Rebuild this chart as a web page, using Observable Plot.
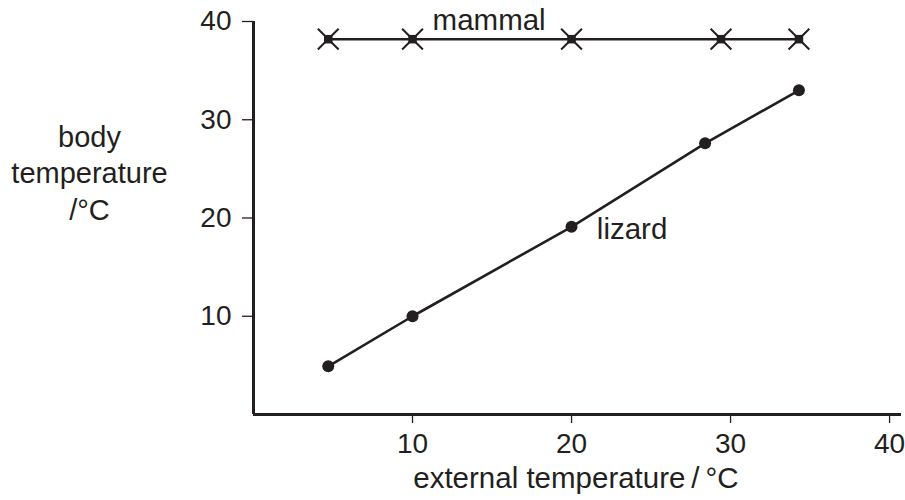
<!DOCTYPE html>
<html>
<head>
<meta charset="utf-8">
<script src="https://cdn.jsdelivr.net/npm/d3@7"></script>
<script src="https://cdn.jsdelivr.net/npm/@observablehq/plot@0.6"></script>
<style>
  html, body { margin: 0; padding: 0; background: white; }
</style>
</head>
<body>
<div id="chart"></div>
<script>
const mammalX = [4.7, 10, 20, 29.4, 34.3];
const mammalY = [38.2, 38.2, 38.2, 38.2, 38.2];
const lizardX = [4.7, 10, 20, 28.4, 34.3];
const lizardY = [4.9, 10, 19.1, 27.6, 33.0];
const xTicks = [10, 20, 30, 40];
const yTicks = [10, 20, 30, 40];
const seriesNames = ["mammal", "lizard"];
const xTitle = "external temperature\u2009/\u2009°C";
const yTitle = "body\ntemperature\n/°C";

const mammal = mammalX.map((x, i) => ({x, y: mammalY[i]}));
const lizard = lizardX.map((x, i) => ({x, y: lizardY[i]}));

const ink = "#231f20";
const font = "'Liberation Sans', Arial, Helvetica, sans-serif";
const fs = 28;
const ft = 29.5;

const chart = Plot.plot({
  width: 905,
  height: 500,
  marginLeft: 253,
  marginRight: 4,
  marginTop: 21,
  marginBottom: 86,
  x: {domain: [0, 40.75]},
  y: {domain: [0, 40]},
  style: {fontFamily: font, fontSize: fs + "px", color: ink, background: "white", overflow: "visible"},
  marks: [
    Plot.axisX({ticks: xTicks, tickSize: 9, tickPadding: 10, label: null, fontSize: fs, strokeWidth: 1.3}),
    Plot.axisY({ticks: yTicks, tickSize: 11, tickPadding: 11, label: null, fontSize: fs, strokeWidth: 1.3}),
    Plot.ruleX([0], {stroke: ink, strokeWidth: 3}),
    Plot.ruleY([0], {stroke: ink, strokeWidth: 3}),
    Plot.line(mammal, {x: "x", y: "y", stroke: ink, strokeWidth: 2.6}),
    Plot.dot(mammal, {x: "x", y: "y", symbol: "times", r: 9.5, stroke: ink, strokeWidth: 2}),
    Plot.dot(mammal, {x: "x", y: "y", symbol: "square", r: 4.8, fill: ink, stroke: "none"}),
    Plot.line(lizard, {x: "x", y: "y", stroke: ink, strokeWidth: 2.6}),
    Plot.dot(lizard, {x: "x", y: "y", r: 6, fill: ink, stroke: "none"}),
    Plot.text([mammal[1]], {x: "x", y: "y", text: () => seriesNames[0], textAnchor: "middle", dx: 76.6, dy: -18.5, fontSize: ft, fill: ink}),
    Plot.text([lizard[2]], {x: "x", y: "y", text: () => seriesNames[1], textAnchor: "start", dx: 25.3, dy: 2.6, fontSize: ft, fill: ink}),
    Plot.text([xTitle], {frameAnchor: "bottom", text: d => d, lineAnchor: "top", dx: -1.6, dy: 53, fontSize: ft, fill: ink}),
    Plot.text([yTitle], {frameAnchor: "left", text: d => d, textAnchor: "middle", lineAnchor: "top", lineHeight: 1.26, dx: -164, dy: -97, fontSize: 29, fill: ink})
  ]
});
document.getElementById("chart").appendChild(chart);
</script>
</body>
</html>
